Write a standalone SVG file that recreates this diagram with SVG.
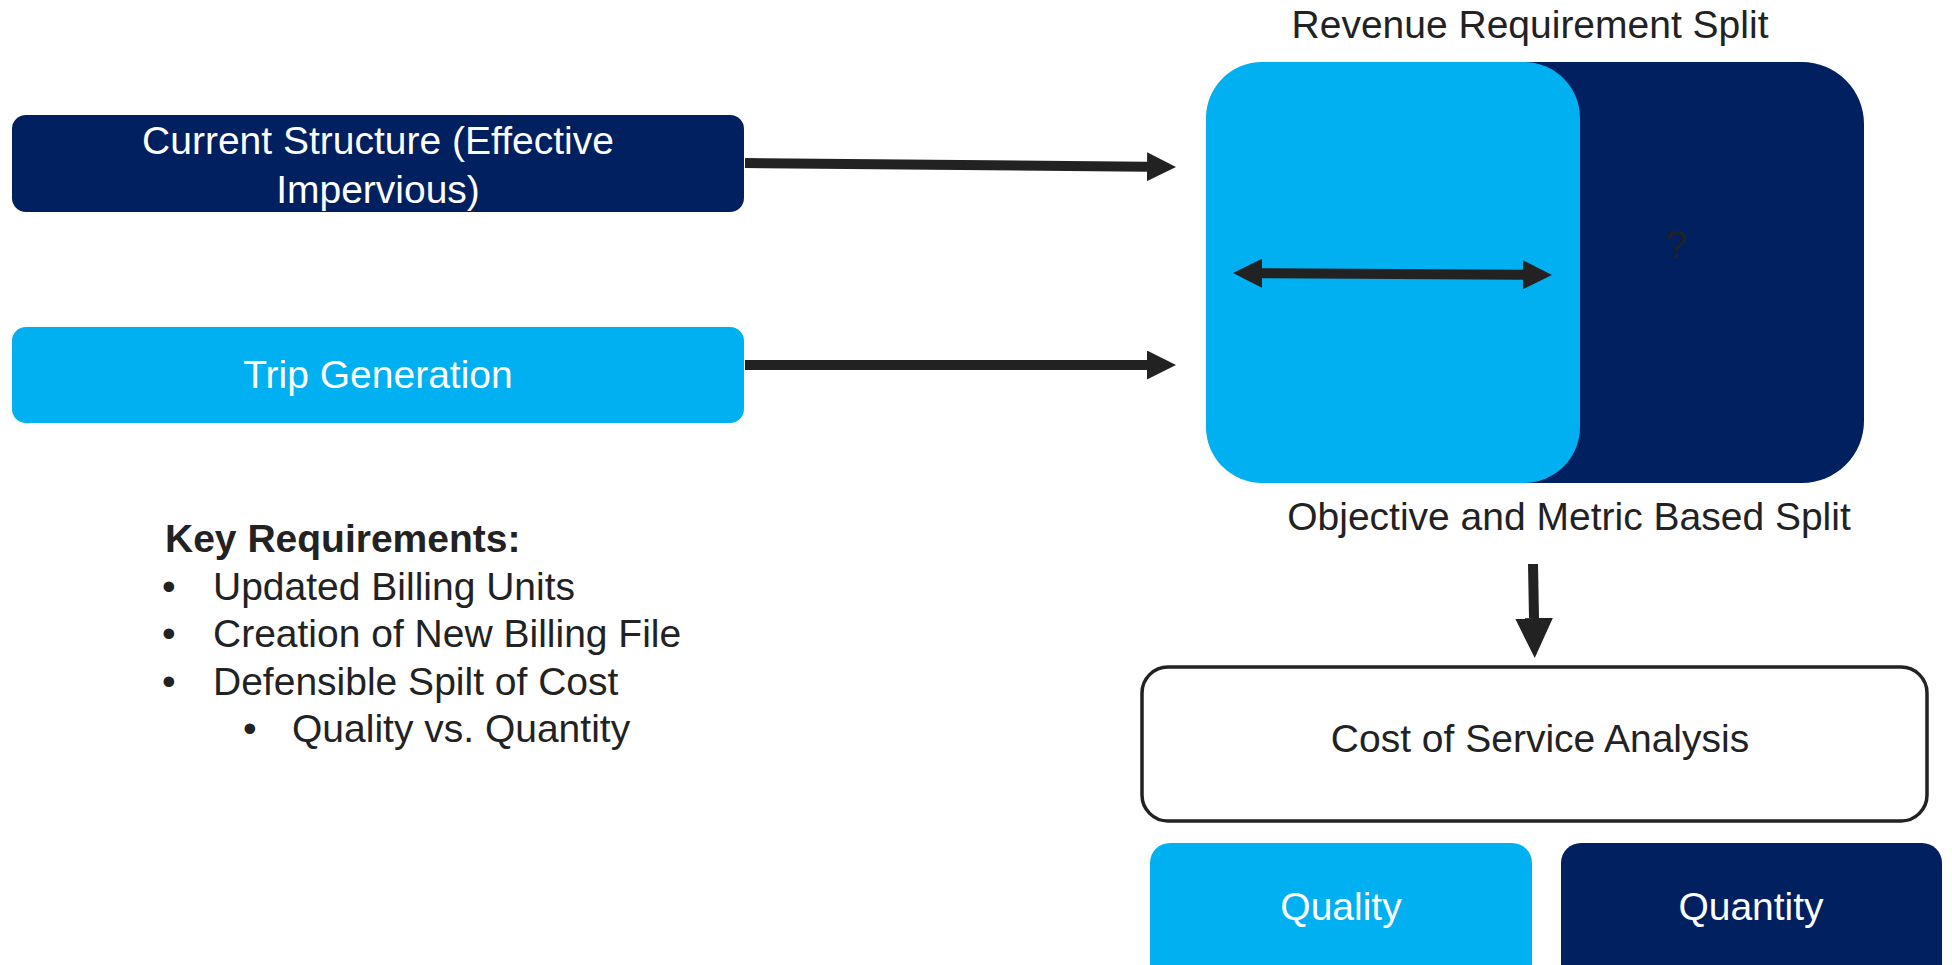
<svg xmlns="http://www.w3.org/2000/svg" width="1952" height="965" viewBox="0 0 1952 965">
<style>
text{font-family:"Liberation Sans",Arial,sans-serif;font-size:39px;fill:#222}
.w{fill:#fff}
.navy{fill:#002060}
.blue{fill:#00B0F0}
.conn{stroke:#222;stroke-width:10;fill:none}
</style>
<defs>
<marker id="ah" viewBox="0 0 29 29" refX="0" refY="14.5" markerWidth="29" markerHeight="29" markerUnits="userSpaceOnUse" orient="auto-start-reverse">
<path d="M0,0 L29,14.5 L0,29 z" fill="#222"/>
</marker>
<marker id="ahd" viewBox="0 0 40 38" refX="0" refY="19" markerWidth="40" markerHeight="38" markerUnits="userSpaceOnUse" orient="auto">
<path d="M0,0 L40,19 L0,38 z" fill="#222"/>
</marker>
</defs>
<rect width="1952" height="965" fill="#fff"/>

<g id="title">
<text x="1530" y="38" text-anchor="middle">Revenue Requirement Split</text>
</g>

<g id="split-quantity">
<rect class="navy" x="1206" y="62" width="658" height="421" rx="62" ry="62"/>
<text x="1676" y="258" text-anchor="middle">?</text>
</g>
<g id="split-quality">
<rect class="blue" x="1206" y="62" width="374" height="421" rx="56" ry="56"/>
</g>

<g id="split-label">
<text x="1569" y="530" text-anchor="middle">Objective and Metric Based Split</text>
</g>

<g id="current-structure">
<rect class="navy" x="12" y="115" width="732" height="97" rx="14" ry="14"/>
<text class="w" x="378" y="154" text-anchor="middle">Current Structure (Effective</text>
<text class="w" x="378" y="203" text-anchor="middle">Impervious)</text>
</g>

<g id="trip-generation">
<rect class="blue" x="12" y="327" width="732" height="96" rx="14" ry="14"/>
<text class="w" x="378" y="388" text-anchor="middle">Trip Generation</text>
</g>

<g id="key-requirements">
<text x="165" y="552" font-weight="bold">Key Requirements:</text>
<text x="162" y="600">•</text>
<text x="213" y="600">Updated Billing Units</text>
<text x="162" y="647">•</text>
<text x="213" y="647">Creation of New Billing File</text>
<text x="162" y="695">•</text>
<text x="213" y="695">Defensible Spilt of Cost</text>
<text x="243" y="742">•</text>
<text x="292" y="742">Quality vs. Quantity</text>
</g>

<g id="cost-of-service">
<rect x="1142" y="667" width="785" height="154" rx="26" ry="26" fill="#fff" stroke="#222" stroke-width="3.5"/>
<text x="1540" y="752" text-anchor="middle">Cost of Service Analysis</text>
</g>

<g id="quality">
<rect class="blue" x="1150" y="843" width="382" height="150" rx="20" ry="20"/>
<text class="w" x="1341" y="920" text-anchor="middle">Quality</text>
</g>

<g id="quantity">
<rect class="navy" x="1561" y="843" width="381" height="150" rx="20" ry="20"/>
<text class="w" x="1751" y="920" text-anchor="middle">Quantity</text>
</g>

<g id="connectors">
<line class="conn" x1="745" y1="163" x2="1147" y2="166.7" marker-end="url(#ah)"/>
<line class="conn" x1="745" y1="365" x2="1147" y2="365" marker-end="url(#ah)"/>
<line class="conn" x1="1262" y1="273.2" x2="1523" y2="274.8" marker-start="url(#ah)" marker-end="url(#ah)"/>
<line class="conn" x1="1533" y1="564" x2="1534" y2="618" stroke-width="12" marker-end="url(#ahd)"/>
</g>
</svg>
